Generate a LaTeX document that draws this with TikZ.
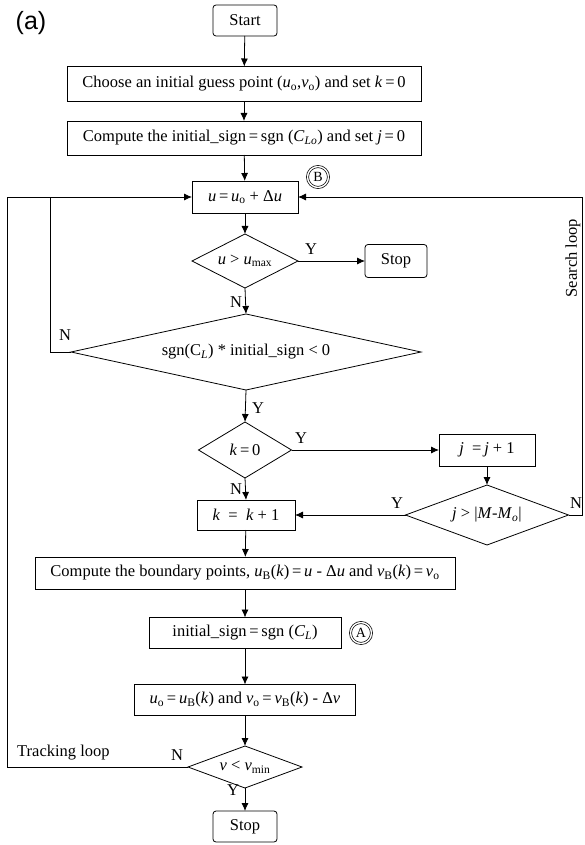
\documentclass[tikz,border=0pt]{standalone}
\usepackage{fontspec}
\setmainfont{Liberation Serif}
\newfontfamily\labsans{Liberation Sans}
\usetikzlibrary{arrows.meta,shapes.geometric}
\newcommand{\mi}[1]{\textit{#1}}
\newcommand{\sub}[1]{\textsubscript{#1}}
\newcommand{\eq}{\,=\,}
\tikzset{
  base/.style={font=\fontsize{16.5}{18}\selectfont, inner sep=0pt, outer sep=0pt},
  procbox/.style={base, draw, line width=0.8pt, rectangle, align=center},
  termbox/.style={procbox, rounded corners=3pt},
  dia/.style={base, draw, line width=0.8pt, diamond},
  lab/.style={font=\fontsize{16.5}{18}\selectfont, inner sep=0pt},
  looplab/.style={font=\fontsize{16.5}{18}\selectfont, inner sep=0pt},
  conn/.style={line width=0.8pt, -{Latex[length=8pt,width=7pt]}},
  plain/.style={line width=0.8pt},
  circ/.style={draw, circle, double, line width=0.7pt, double distance=1.4pt, minimum size=21pt, inner sep=0pt, font=\fontsize{14}{15}\selectfont}
}
\begin{document}
\begin{tikzpicture}[x=1pt,y=-1pt]
\useasboundingbox (0,0) rectangle (584,845);
\node[font=\labsans\fontsize{25}{27}\selectfont, inner sep=0pt] (alabel) at (31,23) {(a)};
\node[termbox, minimum width=64pt, minimum height=31pt] (start) at (245,20.5) {Start};
\node[procbox, minimum width=354pt, minimum height=35pt] (b1) at (244,84) {Choose an initial guess point (\mi{u}\sub{o},\mi{v}\sub{o}) and set \mi{k}\eq 0};
\node[procbox, minimum width=354pt, minimum height=34pt] (b2) at (244,138) {Compute the initial\_sign\eq sgn (\mi{C}\sub{\mi{Lo}}) and set \mi{j}\eq 0};
\node[procbox, minimum width=106pt, minimum height=32pt] (ub) at (245,197) {\mi{u}\eq\mi{u}\sub{o} + Δ\mi{u}};
\node[circ] (cB) at (318,177) {B};
\node[dia, minimum width=106pt, minimum height=54pt, aspect=2.0] (d1) at (245,261) {\mi{u} > \mi{u}\sub{max}};
\node[termbox, minimum width=62pt, minimum height=33pt] (stop1) at (396,261) {Stop};
\node[dia, minimum width=350pt, minimum height=76pt, aspect=4.6] (d2) at (246,352) {sgn(C\sub{\mi{L}}) * initial\_sign < 0};
\node[dia, minimum width=93pt, minimum height=56pt, aspect=1.66] (d3) at (245,450) {\mi{k}\eq 0};
\node[procbox, minimum width=96pt, minimum height=32pt] (jb) at (487,450) {\mi{j} \ =\,\mi{j} + 1};
\node[dia, minimum width=163pt, minimum height=60pt, aspect=2.7] (d4) at (487,515) {\mi{j} > |\mi{M}-\mi{M}\sub{\mi{o}}|};
\node[procbox, minimum width=98pt, minimum height=30pt] (kb) at (246,515) {\mi{k} \ = \ \mi{k} + 1};
\node[procbox, minimum width=420pt, minimum height=32pt] (bb) at (245,573) {Compute the boundary points, \mi{u}\sub{B}(\mi{k})\eq\mi{u} - Δ\mi{u} and \mi{v}\sub{B}(\mi{k})\eq\mi{v}\sub{o}};
\node[procbox, minimum width=192pt, minimum height=31pt] (ib) at (245,633) {initial\_sign\eq sgn (\mi{C}\sub{\mi{L}})};
\node[circ] (cA) at (361,633) {A};
\node[procbox, minimum width=221pt, minimum height=31pt] (ob) at (245,700) {\mi{u}\sub{o}\eq\mi{u}\sub{B}(\mi{k}) and \mi{v}\sub{o}\eq\mi{v}\sub{B}(\mi{k}) - Δ\mi{v}};
\node[dia, minimum width=114pt, minimum height=42pt, aspect=2.7] (d5) at (245,767) {\mi{v} < \mi{v}\sub{min}};
\node[termbox, minimum width=64pt, minimum height=31pt] (stop2) at (245,826.5) {Stop};
% labels
\node[lab] (yl1) at (311,249) {Y};
\node[lab] (nl1) at (236,302) {N};
\node[lab] (nl2) at (65,335) {N};
\node[lab] (yl2) at (258,408) {Y};
\node[lab] (yl3) at (301,438) {Y};
\node[lab] (nl3) at (236,489) {N};
\node[lab] (yl4) at (397,503) {Y};
\node[lab] (nl4) at (576,503) {N};
\node[lab] (nl5) at (177,755) {N};
\node[lab] (yl5) at (233,790) {Y};
\node[looplab, anchor=west] (track) at (17,753) {Tracking loop};
\node[looplab, rotate=90] (search) at (573,258) {Search loop};
% coordinates for loops
\coordinate (lin) at (50,197);
\coordinate (lout) at (7,197);
\coordinate (rout) at (582,197);
% connectors
\draw[conn] (start) -- (b1);
\draw[conn] (b1) -- (b2);
\draw[conn] (b2) -- (ub);
\draw[conn] (ub) -- (d1);
\draw[conn] (d1.east) -- (stop1.west);
\draw[conn] (d1.south) -- (d2.north);
\draw[conn] (d2.west) -| (lin) -- (ub.west);
\draw[conn] (d2.south) -- (d3.north);
\draw[conn] (d3.east) -- (jb.west);
\draw[conn] (jb.south) -- (d4.north);
\draw[conn] (d4.west) -- (kb.east);
\draw[conn] (d4.east) -| (rout) -- (ub.east);
\draw[conn] (d3.south) -- (kb.north);
\draw[conn] (kb) -- (bb);
\draw[conn] (bb) -- (ib);
\draw[conn] (ib) -- (ob);
\draw[conn] (ob) -- (d5.north);
\draw[conn] (d5.south) -- (stop2.north);
\draw[plain] (d5.west) -| (lout) -- (lin);
\end{tikzpicture}
\end{document}
